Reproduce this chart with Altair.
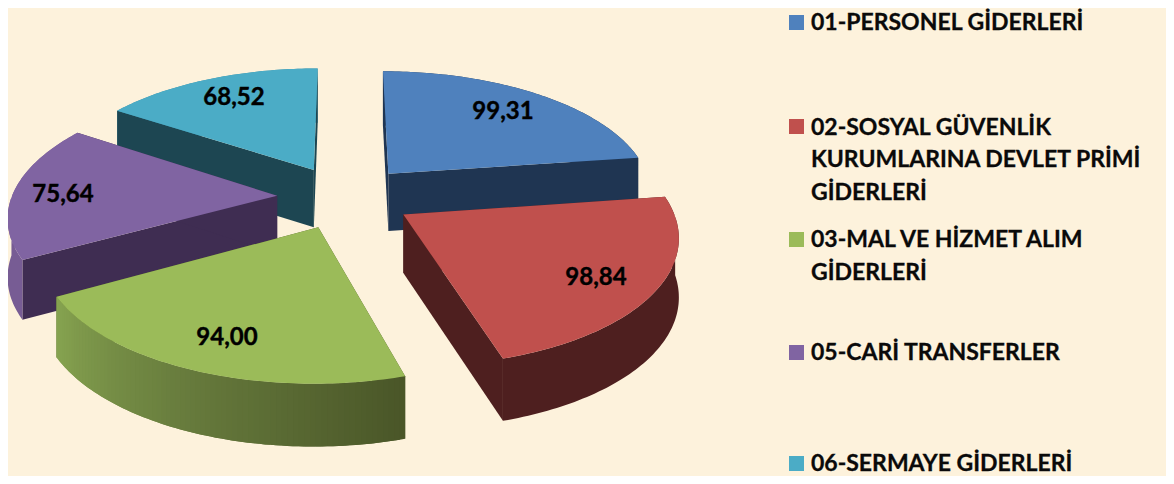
import math
import altair as alt
import pandas as pd

# ---------- data ----------
categories = ["01-PERSONEL GİDERLERİ", "02-SOSYAL GÜVENLİK KURUMLARINA DEVLET PRİMİ GİDERLERİ",
              "03-MAL VE HİZMET ALIM GİDERLERİ", "05-CARİ TRANSFERLER", "06-SERMAYE GİDERLERİ"]
values = [99.31, 98.84, 94.00, 75.64, 68.52]
value_labels = ["99,31", "98,84", "94,00", "75,64", "68,52"]
legend_lines = [["01-PERSONEL GİDERLERİ"],
                ["02-SOSYAL GÜVENLİK", "KURUMLARINA DEVLET PRİMİ", "GİDERLERİ"],
                ["03-MAL VE HİZMET ALIM", "GİDERLERİ"],
                ["05-CARİ TRANSFERLER"],
                ["06-SERMAYE GİDERLERİ"]]

# ---------- style ----------
top_colors = ["#4F81BD", "#C0504D", "#9BBB59", "#8064A2", "#4BACC6"]
wall_colors = ["#1F3552", "#4E1F1F", "#4A5628", "#3F2D52", "#1D4652"]
rim_colors = ["#1F3552", "#4E1F1F", "#4A5628", "#775C94", "#3E8FA5"]
green_ramp = ["#4A5628", "#667A3C", "#86A350"]
BG = "#FDF2DC"
W, H = 1158, 468
OFF = 8  # page margin

# ---------- layout (picture pixel positions) ----------
label_xy = [(503, 119), (596, 285), (227, 345), (63, 202), (234, 105)]
square_y = [22.5, 126.5, 239.5, 352.5, 463.5]
line_baselines = [[30], [135, 167, 200], [247, 280], [360], [471]]
SQUARE_X, TEXT_X = 796.5, 811

# ---------- 3-D projection of the exploded pie ----------
CX, CY, RX, RY, K, EXPL, DEPTH = 345, 197, 265.5, 123.7, 0.146, 0.256, 58


def project(X, Y, down=False):
    s = 1 / (1 - K * Y)
    x = CX + RX * X * s
    y = CY + RY * Y * s
    if down:
        y += DEPTH * s ** 0.4
    return [x - OFF, y - OFF]


def feature(points, fill):
    return {"type": "Feature", "properties": {"fill": fill},
            "geometry": {"type": "Polygon", "coordinates": [points + [points[0]]]}}


def lerp_hex(stops, f):
    f = max(0, min(1, f)) * (len(stops) - 1)
    i = min(int(f), len(stops) - 2)
    a, b = stops[i], stops[i + 1]
    t = f - i
    ca = [int(a[j:j + 2], 16) for j in (1, 3, 5)]
    cb = [int(b[j:j + 2], 16) for j in (1, 3, 5)]
    return "#%02x%02x%02x" % tuple(round(p + (q - p) * t) for p, q in zip(ca, cb))


total = sum(values)
angles = [0]
for v in values:
    angles.append(angles[-1] + v / total * 360)


def wall(pts, fill):
    return feature([project(*p) for p in pts] + [project(*p, True) for p in reversed(pts)], fill)


def slice_features(i):
    a0, a1 = angles[i], angles[i + 1]
    mid = math.radians((a0 + a1) / 2)
    ax, ay = EXPL * math.sin(mid), -EXPL * math.cos(mid)
    n = max(40, int(a1 - a0))
    ts = [a0 + (a1 - a0) * j / n for j in range(n + 1)]
    rim = [(ax + math.sin(math.radians(t)), ay - math.cos(math.radians(t))) for t in ts]
    back = [p for p in rim if p[1] <= ay]
    front = [p for p in rim if p[1] >= ay]
    out = []
    if len(back) > 1:
        out.append(wall(back, rim_colors[i]))
    for r in (rim[0], rim[-1]):
        out.append(wall([(ax, ay), r], wall_colors[i]))
    if i == 2:
        # light falls from the left: overlapping strips avoid seams between them
        for j in range(n):
            out.append(wall(rim[j:j + 3], lerp_hex(green_ramp, j / (n - 1))))
    elif len(front) > 1:
        out.append(wall(front, rim_colors[i]))
    out.append(feature([project(ax, ay)] + [project(*r) for r in rim], top_colors[i]))
    return out


features = []
for i in [4, 0, 3, 2, 1]:
    features += slice_features(i)

pie = alt.Chart(alt.Data(values=features)).mark_geoshape(strokeWidth=0).encode(
    color=alt.Color("properties.fill:N", scale=None),
).project(type="identity", scale=1, translate=[0, 0])

x_px = alt.X("x:Q", scale=alt.Scale(domain=[0, W], range=[0, W]), axis=None)
y_px = alt.Y("y:Q", scale=alt.Scale(domain=[0, H], range=[0, H]), axis=None)

label_df = pd.DataFrame({"x": [p[0] - OFF for p in label_xy],
                         "y": [p[1] - OFF for p in label_xy],
                         "t": value_labels})
labels = alt.Chart(label_df).mark_text(font="Lato", fontWeight="bold", fontSize=24,
                                       color="#000000", stroke="#000000", strokeWidth=0.4,
                                       align="center", baseline="alphabetic"
                                       ).encode(x=x_px, y=y_px, text="t:N")

legend_df = pd.DataFrame({"x": [TEXT_X - OFF] * sum(len(l) for l in legend_lines),
                          "y": [b - OFF for bs in line_baselines for b in bs],
                          "t": [s for l in legend_lines for s in l]})
legend_text = alt.Chart(legend_df).mark_text(font="Lato", fontWeight="bold", fontSize=23,
                                             color="#0A0A0A", stroke="#0A0A0A", strokeWidth=0.3,
                                             align="left", baseline="alphabetic"
                                             ).encode(x=x_px, y=y_px, text="t:N")

square_df = pd.DataFrame({"x": [SQUARE_X - OFF] * 5, "y": [y - OFF for y in square_y],
                          "c": categories, "fill": top_colors})
squares = alt.Chart(square_df).mark_square(size=225, opacity=1).encode(
    x=x_px, y=y_px, color=alt.Color("fill:N", scale=None))

chart = alt.layer(pie, squares, labels, legend_text).properties(
    width=W, height=H, background=BG, padding=0,
    autosize=alt.AutoSizeParams(type="none", contains="padding")
).configure_view(stroke=None)

chart.save("out.html", embed_options={"renderer": "svg", "actions": False})
